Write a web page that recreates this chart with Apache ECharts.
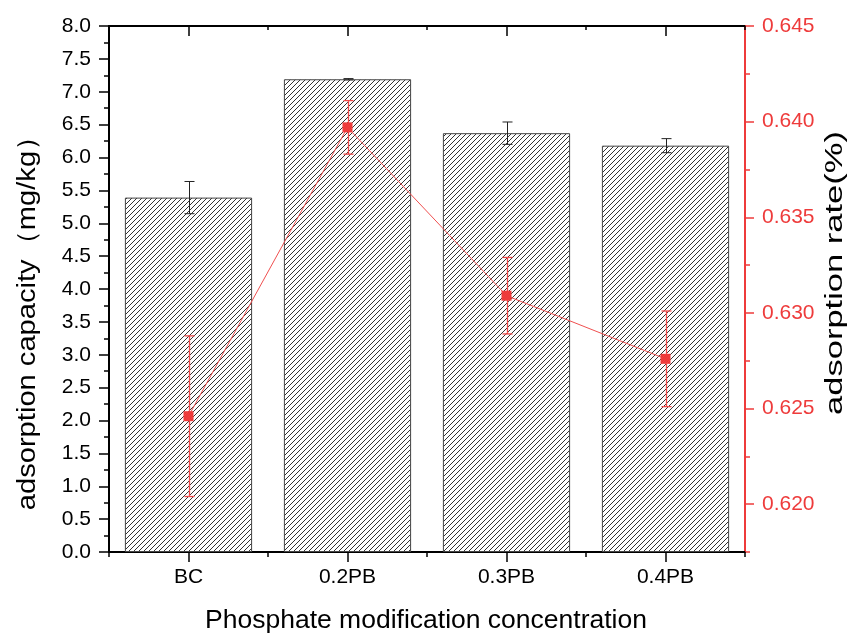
<!DOCTYPE html>
<html><head><meta charset="utf-8">
<script src="https://cdn.jsdelivr.net/npm/echarts@6/dist/echarts.min.js"></script>
<style>html,body{margin:0;padding:0;background:#fff}#c{width:853px;height:634px}</style>
</head><body><div id="c"></div>
<script>
// ---- data ----
const categories = ['BC', '0.2PB', '0.3PB', '0.4PB'];
const capacity = [5.39, 7.19, 6.37, 6.18];
const capacityErr = [0.245, 0.01, 0.17, 0.107];
const rate = [0.6246, 0.6397, 0.6309, 0.6276];
const rateErr = [0.0042, 0.0014, 0.0020, 0.0025];
const capacityAxis = [0, 8, 0.5];        // min, max, step
const rateAxis = [0.6175, 0.645, 0.005];  // min, max, step
const xTitle = 'Phosphate modification concentration';
const yTitleLeft = 'adsorption capacity（mg/kg）';
const yTitleRight = 'adsorption rate(%)';

const FONT = '"Liberation Sans", Arial, sans-serif';
const RED = '#ee3b3b';

function hatch() {
  const s = 5, c = document.createElement('canvas');
  c.width = s; c.height = s;
  const g = c.getContext('2d');
  g.fillStyle = '#fff'; g.fillRect(0, 0, s, s);
  g.strokeStyle = '#333'; g.lineWidth = 1;
  g.beginPath();
  g.moveTo(-1, s + 1); g.lineTo(s + 1, -1);
  g.moveTo(-1, 1); g.lineTo(1, -1);
  g.moveTo(s - 1, s + 1); g.lineTo(s + 1, s - 1);
  g.stroke();
  return c;
}

function errRender(color, cap, width) {
  return function (params, api) {
    const x = api.value(0), lo = api.value(1), hi = api.value(2);
    const p1 = api.coord([x, hi]), p2 = api.coord([x, lo]);
    const cx = Math.round(p1[0]) + 0.5;
    const style = { stroke: color, lineWidth: width };
    return { type: 'group', children: [
      { type: 'line', shape: { x1: cx, y1: p1[1], x2: cx, y2: p2[1] }, style },
      { type: 'line', shape: { x1: cx - cap, y1: p1[1], x2: cx + cap, y2: p1[1] }, style },
      { type: 'line', shape: { x1: cx - cap, y1: p2[1], x2: cx + cap, y2: p2[1] }, style }
    ] };
  };
}

const chart = echarts.init(document.getElementById('c'), null, { renderer: 'canvas' });
const baseCat = { type: 'category', data: categories, boundaryGap: true, splitLine: { show: false } };
const isStep = v => Math.abs(v / rateAxis[2] - Math.round(v / rateAxis[2])) < 1e-6;

chart.setOption({
  animation: false,
  backgroundColor: '#fff',
  grid: { left: 109, right: 108, top: 26, bottom: 82, containLabel: false },
  xAxis: [
    Object.assign({}, baseCat, { position: 'bottom',
      axisLine: { show: true, lineStyle: { color: '#000', width: 2 } },
      axisTick: { show: true, alignWithLabel: true, length: 10, lineStyle: { color: '#000', width: 1.5 } },
      axisLabel: { fontSize: 21, color: '#000', fontFamily: FONT, margin: 15 } }),
    Object.assign({}, baseCat, { position: 'bottom',
      axisLine: { show: false },
      axisTick: { show: true, length: 5, lineStyle: { color: '#000', width: 1.5 } },
      axisLabel: { show: false } }),
    Object.assign({}, baseCat, { position: 'top',
      axisLine: { show: true, lineStyle: { color: '#000', width: 2 } },
      axisTick: { show: true, inside: true, alignWithLabel: true, length: 10, lineStyle: { color: '#000', width: 1.5 } },
      axisLabel: { show: false } }),
    Object.assign({}, baseCat, { position: 'top',
      axisLine: { show: false },
      axisTick: { show: true, inside: true, length: 4, lineStyle: { color: '#000', width: 1.5 } },
      axisLabel: { show: false } })
  ],
  yAxis: [
    { type: 'value', position: 'left', min: capacityAxis[0], max: capacityAxis[1], interval: capacityAxis[2],
      splitLine: { show: false },
      axisLine: { show: true, lineStyle: { color: '#000', width: 2 } },
      axisTick: { show: true, length: 10, lineStyle: { color: '#000', width: 1.5 } },
      minorTick: { show: true, splitNumber: 2, length: 5, lineStyle: { color: '#000', width: 1.5 } },
      axisLabel: { fontSize: 21, color: '#000', fontFamily: FONT, margin: 18, formatter: v => v.toFixed(1) } },
    { type: 'value', position: 'right', min: rateAxis[0], max: rateAxis[1], splitNumber: 5,
      splitLine: { show: false },
      axisLine: { show: true, lineStyle: { color: RED, width: 2 } },
      axisTick: { show: true, length: 9, lineStyle: { color: RED, width: 1.5 } },
      axisLabel: { fontSize: 21, color: RED, fontFamily: FONT, margin: 17, showMinLabel: false,
        formatter: v => isStep(v) ? v.toFixed(3) : '' } },
    { type: 'value', position: 'right', min: rateAxis[0], max: rateAxis[1], interval: rateAxis[2],
      splitLine: { show: false },
      axisLine: { show: false },
      axisTick: { show: true, length: 5, lineStyle: { color: RED, width: 1.5 } },
      axisLabel: { show: false } }
  ],
  series: [
    { type: 'bar', xAxisIndex: 0, yAxisIndex: 0, data: capacity, barWidth: '80%', z: 1,
      itemStyle: { color: { image: hatch(), repeat: 'repeat' }, borderColor: '#444', borderWidth: 1 } },
    { type: 'custom', xAxisIndex: 0, yAxisIndex: 0, z: 2, renderItem: errRender('#222', 5, 1),
      encode: { x: 0, y: [1, 2] },
      data: capacity.map((v, i) => [i, v - capacityErr[i], v + capacityErr[i]]) },
    { type: 'custom', xAxisIndex: 0, yAxisIndex: 1, z: 3, renderItem: errRender('#f04a4a', 5, 1.3),
      encode: { x: 0, y: [1, 2] },
      data: rate.map((v, i) => [i, v - rateErr[i], v + rateErr[i]]) },
    { type: 'line', xAxisIndex: 0, yAxisIndex: 1, data: rate, z: 4,
      symbol: 'rect', symbolSize: 10,
      lineStyle: { color: '#f05050', width: 1 },
      itemStyle: { color: RED } }
  ],
  graphic: [
    { type: 'text', x: 426, y: 621, style: { text: xTitle, fontSize: 26.5, fontFamily: FONT, fill: '#000', align: 'center', verticalAlign: 'middle' } },
    { type: 'text', x: 28, y: 316, rotation: Math.PI / 2, scaleX: 1.12, style: { text: yTitleLeft, fontSize: 26, fontFamily: FONT, fill: '#000', align: 'center', verticalAlign: 'middle' } },
    { type: 'text', x: 836, y: 273, rotation: Math.PI / 2, scaleX: 1.5, style: { text: yTitleRight, fontSize: 23, fontFamily: FONT, fill: '#000', align: 'center', verticalAlign: 'middle' } }
  ]
});
</script>
</body></html>
